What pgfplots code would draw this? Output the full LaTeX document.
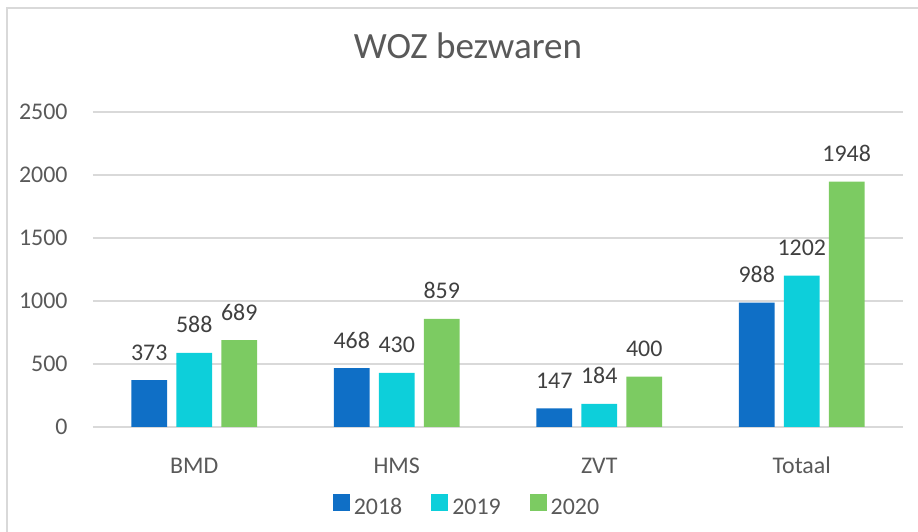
\documentclass[border=0pt]{standalone}
\usepackage{pgfplots}
\pgfplotsset{compat=1.18}
\usepackage{fontspec}
\setmainfont{Carlito}

\definecolor{c18}{HTML}{0F6FC6}
\definecolor{c19}{HTML}{0DCFDA}
\definecolor{c20}{HTML}{7CCB62}
\definecolor{gridc}{HTML}{D9D9D9}
\definecolor{txt}{HTML}{595959}
\definecolor{lbl}{HTML}{404040}

\begin{document}
\begin{tikzpicture}
\path[use as bounding box] (0bp,0bp) rectangle (459bp,266bp);
\draw[gridc, line width=1bp] (3.5bp,0bp) -- (3.5bp,261.75bp) -- (459bp,261.75bp);
\node[anchor=base, text=txt, font=\fontsize{18.6}{22}\selectfont] at (234bp,236.5bp) {WOZ bezwaren};

\begin{axis}[
    at={(46.5bp,52.5bp)}, anchor=south west,
    scale only axis,
    width=405bp, height=157.5bp,
    xmin=-0.5, xmax=3.5,
    ymin=0, ymax=2500,
    xtick={0,1,2,3},
    xticklabels={BMD,HMS,ZVT,Totaal},
    ytick={0,500,...,2500},
    ymajorgrids,
    grid style={gridc, line width=1bp},
    axis line style={draw=none},
    major tick length=0pt,
    font=\fontsize{12}{14}\selectfont,
    /pgf/number format/assume math mode=true,
    /pgf/number format/1000 sep={},
    tick label style={text=txt},
    yticklabel style={anchor=east, inner sep=0pt, xshift=-12.5bp},
    xticklabel style={anchor=base, inner sep=0pt, yshift=-23bp},
    ybar, bar width=0.177,
    nodes near coords,
    nodes near coords style={anchor=base, inner sep=0pt, yshift=10bp, text=lbl},
    legend columns=3,
    legend style={draw=none, fill=none, at={(0.463,-0.257)}, anchor=center,
        text=txt, font=\fontsize{12}{14}\selectfont,
        /tikz/every even column/.append style={column sep=12.5bp}},
    legend image code/.code={\fill[#1] (0bp,-1.5bp) rectangle (8.5bp,7bp);},
]
\addplot[fill=c18, draw=none, bar shift=-0.222] coordinates {(0,373) (1,468) (2,147) (3,988)};
\addplot[fill=c19, draw=none, bar shift=0] coordinates {(0,588) (1,430) (2,184) (3,1202)};
\addplot[fill=c20, draw=none, bar shift=0.222] coordinates {(0,689) (1,859) (2,400) (3,1948)};
\legend{2018,2019,2020}
\end{axis}
\end{tikzpicture}
\end{document}
